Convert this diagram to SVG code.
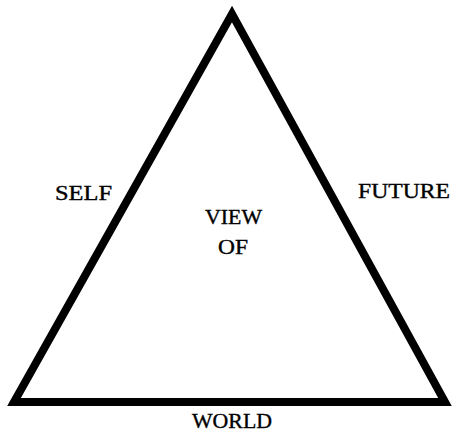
<svg xmlns="http://www.w3.org/2000/svg" width="453" height="435" viewBox="0 0 453 435">
<style>
text{font-family:"Liberation Serif","Times New Roman",serif;font-size:20px;fill:#000;stroke:#000;stroke-width:0.35;}
.edge{fill:none;stroke:#000;stroke-width:8;stroke-linejoin:miter;stroke-miterlimit:10;}
</style>
<rect width="453" height="435" fill="#fff"/>
<g id="connectors">
<polygon id="triangle" class="edge" points="232,14 14,402 445,402"/>
</g>
<g id="self"><text x="55" y="200" textLength="57" lengthAdjust="spacingAndGlyphs">SELF</text></g>
<g id="view"><text x="205" y="224" font-size="22" textLength="57" lengthAdjust="spacingAndGlyphs">VIEW</text>
<text x="218" y="254" font-size="22" textLength="30" lengthAdjust="spacingAndGlyphs">OF</text></g>
<g id="future"><text x="358" y="198" textLength="92" lengthAdjust="spacingAndGlyphs">FUTURE</text></g>
<g id="world"><text x="192" y="428" textLength="80" lengthAdjust="spacingAndGlyphs">WORLD</text></g>
</svg>
